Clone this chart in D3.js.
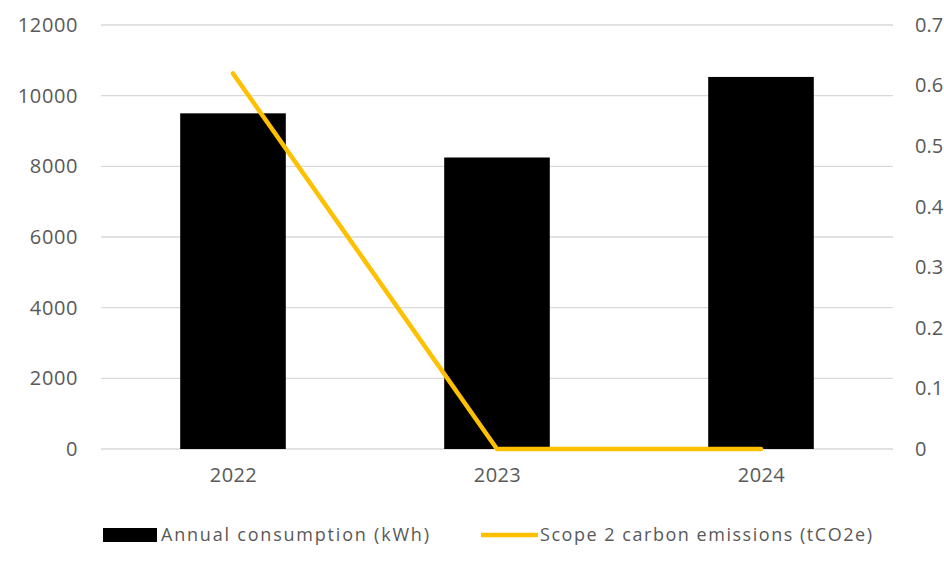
<!DOCTYPE html>
<html>
<head>
<meta charset="utf-8">
<script src="https://cdn.jsdelivr.net/npm/d3@7"></script>
<style>
  html, body { margin: 0; padding: 0; background: #fff; }
  svg { display: block; }
  text { font-family: "Open Sans", "Noto Sans", sans-serif; fill: #595959; }
</style>
</head>
<body>
<svg id="chart" width="944" height="568"></svg>
<script>
// Annual electricity use and the matching Scope 2 emissions
const years = ["2022", "2023", "2024"];
const consumption = [9500, 8250, 10530];      // kWh
const emissions = [0.62, 0, 0];               // tCO2e
const leftTicks = [0, 2000, 4000, 6000, 8000, 10000, 12000];
const rightTicks = [0, 0.1, 0.2, 0.3, 0.4, 0.5, 0.6, 0.7];
const seriesNames = ["Annual consumption (kWh)", "Scope 2 carbon emissions (tCO2e)"];

const svg = d3.select("#chart");
const plot = { left: 101, right: 893, top: 25, bottom: 449 };

const x = d3.scaleBand().domain(years).range([plot.left, plot.right]).paddingInner(0.6).paddingOuter(0.3);
const xc = d3.scalePoint().domain(years).range([plot.left, plot.right]).padding(0.5);
const yL = d3.scaleLinear().domain([0, 12000]).range([plot.bottom, plot.top]);
const yR = d3.scaleLinear().domain([0, 0.7]).range([plot.bottom, plot.top]);

// gridlines
svg.append("g").selectAll("line").data(leftTicks).join("line")
  .attr("x1", plot.left).attr("x2", plot.right)
  .attr("y1", d => yL(d)).attr("y2", d => yL(d))
  .attr("stroke", "#d9d9d9").attr("stroke-width", 1.3);

// left axis labels
const axisL = d3.axisLeft(yL).tickValues(leftTicks).tickSize(0).tickPadding(0).tickFormat(d3.format("d"));
const gL = svg.append("g").attr("transform", `translate(78,0)`).call(axisL);
gL.select(".domain").remove();
gL.selectAll("text").attr("font-size", 20).attr("letter-spacing", 0.6).attr("fill", "#595959").attr("font-family", null);

// right axis labels
const axisR = d3.axisRight(yR).tickValues(rightTicks).tickSize(0).tickPadding(0).tickFormat(d => d === 0 ? "0" : d3.format(".1f")(d));
const gR = svg.append("g").attr("transform", `translate(915,0)`).call(axisR);
gR.select(".domain").remove();
gR.selectAll("text").attr("font-size", 20).attr("fill", "#595959").attr("font-family", null);

// bars
svg.append("g").selectAll("rect").data(years).join("rect")
  .attr("x", d => x(d))
  .attr("width", x.bandwidth())
  .attr("y", (d, i) => yL(consumption[i]))
  .attr("height", (d, i) => yL(0) - yL(consumption[i]))
  .attr("fill", "#000");

// emissions line
const line = d3.line().x((d, i) => xc(years[i])).y(d => yR(d));
svg.append("path").datum(emissions)
  .attr("d", line)
  .attr("fill", "none")
  .attr("stroke", "#FFC000")
  .attr("stroke-width", 4.5)
  .attr("stroke-linecap", "round")
  .attr("stroke-linejoin", "round");

// category labels
const axisX = d3.axisBottom(xc).tickSize(0).tickPadding(0);
const gX = svg.append("g").attr("transform", `translate(0,468)`).call(axisX);
gX.select(".domain").remove();
gX.selectAll("text").attr("font-size", 20).attr("letter-spacing", 0.4).attr("fill", "#595959").attr("font-family", null);

// legend
const lg = svg.append("g");
lg.append("rect").attr("x", 103).attr("y", 528).attr("width", 54).attr("height", 14).attr("fill", "#000");
lg.append("text").attr("x", 161).attr("y", 541).attr("font-size", 18)
  .attr("textLength", 268).attr("lengthAdjust", "spacing").text(seriesNames[0]);
lg.append("line").attr("x1", 481).attr("x2", 538).attr("y1", 535).attr("y2", 535)
  .attr("stroke", "#FFC000").attr("stroke-width", 4.5);
lg.append("text").attr("x", 540).attr("y", 541).attr("font-size", 18)
  .attr("textLength", 332).attr("lengthAdjust", "spacing").text(seriesNames[1]);
</script>
</body>
</html>
